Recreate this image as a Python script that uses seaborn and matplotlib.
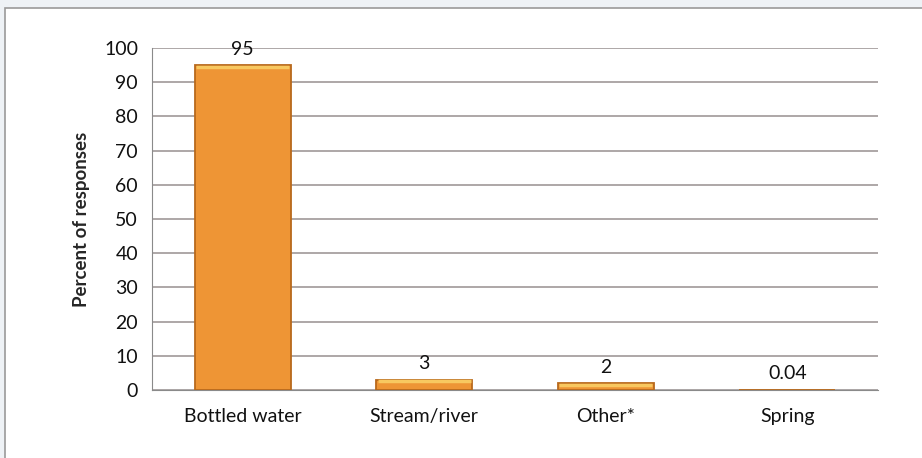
import matplotlib
matplotlib.use("Agg")
import matplotlib.pyplot as plt
import seaborn as sns
import pandas as pd
from matplotlib.patches import Rectangle

# Data
sources = ["Bottled water", "Stream/river", "Other*", "Spring"]
percent = [95, 3, 2, 0.04]
value_labels = ["95", "3", "2", "0.04"]
y_ticks = [0, 10, 20, 30, 40, 50, 60, 70, 80, 90, 100]

df = pd.DataFrame({"Source": sources, "Percent": percent})

sns.set_style("white")
plt.rcParams["font.family"] = ["Lato", "DejaVu Sans"]

fig = plt.figure(figsize=(9.22, 4.58), dpi=100)
fig.patch.set_facecolor("#eef2f6")
# white panel with grey border, like the framed box in the source
fig.patches.append(Rectangle((5 / 922, -0.05), 1.1, (458 - 8) / 458 + 0.05,
                             transform=fig.transFigure, facecolor="white",
                             edgecolor="#9a9a9a", linewidth=1.2, zorder=-10))

ax = fig.add_axes([152 / 922, (458 - 390) / 458, (878 - 152) / 922, (390 - 48) / 458])
ax.set_zorder(5)
ax.set_facecolor("none")

sns.barplot(data=df, x="Source", y="Percent", color="#ee9535", width=0.53,
            edgecolor="#b8691c", linewidth=1.3, saturation=1, ax=ax, zorder=3)

# light highlight along the top of each bar
for bar in ax.patches:
    x0, w, h = bar.get_x(), bar.get_width(), bar.get_height()
    if h > 0.5:
        ax.plot([x0 + 0.01, x0 + w - 0.01], [h - 0.5, h - 0.5], color="#f8c860",
                linewidth=2.5, zorder=4, solid_capstyle="butt")

for i, (v, lab) in enumerate(zip(percent, value_labels)):
    ax.text(i, v + 2.2, lab, ha="center", va="bottom", fontsize=14, color="#111111")

ax.set_ylim(0, 100)
ax.set_xlim(-0.5, 3.5)
ax.set_yticks(y_ticks)
ax.yaxis.grid(True, color="#a09898", linewidth=1.2, zorder=0)
ax.set_axisbelow(True)

for s in ["top", "right"]:
    ax.spines[s].set_visible(False)
ax.spines["left"].set_color("#8a8a8a")
ax.spines["bottom"].set_color("#8a8a8a")

ax.tick_params(axis="y", direction="out", length=5, color="#8a8a8a", labelsize=14,
               pad=5, labelcolor="#111111")
ax.set_xticks([0, 1, 2, 3])
ax.set_xticklabels(sources, fontsize=14, color="#111111")
ax.tick_params(axis="x", length=0, pad=13)
# category boundary tick marks
ax.set_xticks([-0.5, 0.5, 1.5, 2.5, 3.5], minor=True)
ax.tick_params(axis="x", which="minor", direction="out", length=5, color="#8a8a8a")

ax.set_xlabel("")
ax.set_ylabel("Percent of responses", fontsize=13.5, fontweight="bold", labelpad=10)

fig.savefig("out.png", dpi=100)
